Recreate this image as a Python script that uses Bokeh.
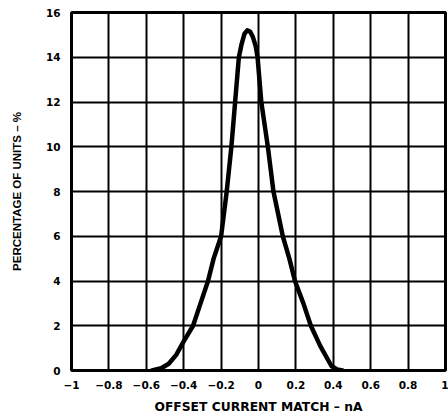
from bokeh.plotting import figure
from bokeh.models import FixedTicker, Range1d
from bokeh.embed import file_html
from bokeh.resources import INLINE

# Distribution curve
offset_na = [-0.57, -0.52, -0.48, -0.44, -0.40, -0.35, -0.31, -0.27, -0.24, -0.20,
             -0.17, -0.145, -0.125, -0.105, -0.09, -0.075, -0.06, -0.045, -0.03, -0.015,
             -0.005, 0.015, 0.05, 0.08, 0.13, 0.165, 0.195, 0.24, 0.28, 0.33,
             0.39, 0.42, 0.45]
percent_units = [0.0, 0.1, 0.3, 0.7, 1.3, 2.0, 3.0, 4.0, 5.0, 6.0,
                 8.0, 10.0, 12.0, 14.0, 14.6, 15.05, 15.2, 15.15, 14.9, 14.5,
                 14.0, 12.0, 10.0, 8.0, 6.0, 5.0, 4.0, 3.0, 2.0, 1.1,
                 0.2, 0.05, 0.0]

x_ticks = [-1, -0.8, -0.6, -0.4, -0.2, 0, 0.2, 0.4, 0.6, 0.8, 1]
x_tick_labels = ["\u22121", "\u22120.8", "\u22120.6", "\u22120.4", "\u22120.2", "0",
                 "0.2", "0.4", "0.6", "0.8", "1"]
y_ticks = [0, 2, 4, 6, 8, 10, 12, 14, 16]
y_tick_labels = ["0", "2", "4", "6", "8", "10", "12", "14", "16"]

TICK_FONT = "DejaVu Sans"

p = figure(frame_width=374, frame_height=358,
           min_border_left=71, min_border_right=3, min_border_top=12, min_border_bottom=49,
           x_range=Range1d(-1, 1), y_range=Range1d(0, 16),
           output_backend="svg", toolbar_location=None)

p.line(offset_na, percent_units, line_color="black", line_width=4.5,
       line_join="round", line_cap="round")

p.outline_line_color = "black"
p.outline_line_width = 3
p.outline_line_alpha = 1

for grid in (p.xgrid, p.ygrid):
    grid.grid_line_color = "black"
    grid.grid_line_width = 2
    grid.grid_line_alpha = 1

p.xaxis.ticker = FixedTicker(ticks=x_ticks)
p.yaxis.ticker = FixedTicker(ticks=y_ticks)
p.xaxis.major_label_overrides = {t: l for t, l in zip(x_ticks, x_tick_labels)}
p.yaxis.major_label_overrides = {t: l for t, l in zip(y_ticks, y_tick_labels)}

for ax in (p.xaxis, p.yaxis):
    ax.axis_line_color = None
    ax.major_tick_line_color = None
    ax.minor_tick_line_color = None
    ax.major_label_text_font = TICK_FONT
    ax.major_label_text_font_style = "bold"
    ax.major_label_text_font_size = "10.5px"
    ax.major_label_text_color = "black"
    ax.axis_label_text_font_style = "bold"
    ax.axis_label_text_color = "black"

p.xaxis.axis_label = "OFFSET CURRENT MATCH \u2013 nA"
p.xaxis.axis_label_text_font = "DejaVu Sans"
p.xaxis.axis_label_text_font_size = "12.3px"
p.xaxis.major_label_standoff = 4
p.xaxis.axis_label_standoff = 8

p.yaxis.axis_label = "PERCENTAGE OF UNITS \u2013 %"
p.yaxis.axis_label_text_font = "Liberation Sans"
p.yaxis.axis_label_text_font_size = "11.5px"
p.yaxis.major_label_standoff = 5
p.yaxis.axis_label_standoff = 20

open("out.html", "w").write(file_html(p, INLINE))
